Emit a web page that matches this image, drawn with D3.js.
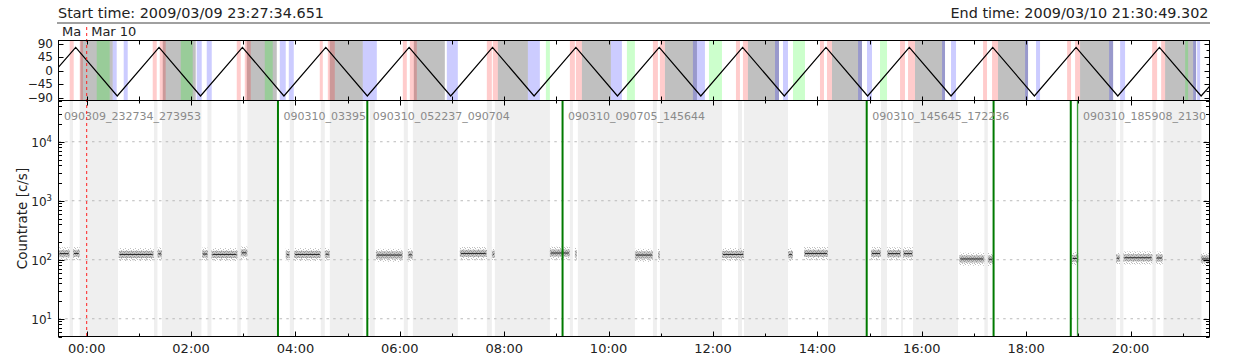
<!DOCTYPE html>
<html><head><meta charset="utf-8">
<script src="https://cdn.jsdelivr.net/npm/d3@7"></script>
<style>body{margin:0;background:#fff}svg{display:block}text{font-family:"DejaVu Sans",sans-serif}</style>
</head><body><svg id="c" width="1240" height="360"></svg>
<script>
// ---------- data ----------
const startTime = "2009/03/09 23:27:34.651";
const endTime = "2009/03/10 21:30:49.302";
const dayStart = "2009/03/10 00:00:00.000";
const dayLabels = ["Mar 09", "Mar 10"];
const yTopTicks = [90, 45, 0, -45, -90];
const yBotTicks = [10, 100, 1000, 10000];
const yLabel = "Countrate [c/s]";

// orbit trace: turning points (hours from 2009/03/10 00:00) and values
const orbitHours = [-0.540, -0.211, 0.585, 1.386, 2.181, 2.984, 3.779, 4.581, 5.377, 6.178, 6.975, 7.776, 8.572, 9.373, 10.170, 10.970, 11.767, 12.568, 13.366, 14.165, 14.963, 15.762, 16.561, 17.360, 18.158, 18.957, 19.757, 20.554, 21.353, 21.514];
const orbitValues = [11, 77, -85, 77, -85, 77, -85, 77, -85, 77, -85, 77, -85, 77, -85, 77, -85, 77, -85, 77, -85, 77, -85, 77, -85, 77, -85, 77, -85, -53];

// top panel bands [start, end] in hours
const grayBands = [[-0.121,0.498],[1.457,2.089],[3.067,3.642],[4.658,5.290],[6.268,6.862],[7.878,8.453],[9.488,10.044],[11.079,11.693],[12.670,13.265],[14.280,14.855],[15.871,16.446],[17.462,18.037],[19.034,19.667],[20.663,21.257]];
const redBands = [[-0.326,-0.249],[-0.134,-0.071],[1.265,1.342],[1.399,1.514],[2.875,2.952],[3.029,3.144],[4.466,4.524],[4.620,4.754],[6.057,6.134],[6.191,6.326],[7.667,7.763],[7.782,7.878],[9.258,9.354],[9.373,9.488],[10.849,10.945],[10.983,11.079],[12.440,12.517],[12.574,12.670],[14.050,14.127],[14.184,14.280],[15.584,15.679],[15.737,15.871],[17.175,17.251],[17.347,17.462],[18.785,18.861],[18.938,19.034],[20.414,20.510],[20.587,20.663]];
const blueBands = [[0.498,0.575],[0.709,0.786],[2.108,2.204],[2.300,2.396],[3.699,3.814],[3.872,3.968],[5.290,5.559],[6.900,7.111],[8.453,8.683],[10.044,10.255],[11.616,11.846],[13.188,13.265],[13.341,13.437],[14.779,14.855],[14.951,15.047],[16.389,16.446],[16.561,16.657],[17.980,18.037],[18.190,18.267],[19.590,19.667],[19.801,19.896],[21.200,21.257],[21.276,21.334]];
const greenBands = [[0.192,0.441],[1.802,2.032],[3.412,3.565],[8.798,8.875],[10.351,10.504],[11.923,12.172],[13.533,13.763],[15.200,15.335],[21.047,21.104]];

// bottom panel excluded intervals (hours)
const shadeBands = [[-0.326,-0.262],[-0.134,0.600],[1.290,1.355],[1.443,2.198],[2.313,2.390],[2.885,2.952],[3.080,3.642],[3.891,3.973],[4.485,4.562],[4.658,5.290],[5.425,5.520],[6.076,6.153],[6.249,7.111],[7.667,7.763],[7.821,8.875],[9.258,9.316],[9.411,10.504],[10.849,10.926],[10.983,12.172],[12.479,12.555],[12.594,13.437],[14.204,14.951],[15.220,15.335],[15.603,15.641],[15.833,16.695],[17.200,17.265],[19.005,19.724],[19.801,19.864],[20.420,20.485],[20.630,21.359]];

// count-rate clusters
const clusterStart = [-0.540,-0.263,0.613,1.355,2.210,2.390,2.952,3.814,3.974,4.562,5.540,6.153,7.150,7.763,8.875,9.354,10.504,10.945,12.172,13.437,13.744,15.027,15.335,15.641,16.720,17.265,18.875,19.724,19.864,20.485,21.348];
const clusterEnd   = [-0.326,-0.134,1.284,1.443,2.325,2.889,3.080,3.891,4.485,4.658,6.057,6.249,7.667,7.821,9.258,9.392,10.849,10.983,12.594,13.533,14.204,15.220,15.603,15.833,17.200,17.372,19.002,19.801,20.420,20.619,21.514];
const clusterMean  = [127,128,123,126,125,123,131,122,123,124,120,121,128,124,130,125,120,120,123,122,128,128,127,127,103,102,105,106,108,107,103];
const scatterCore = [0.87, 1.15];
const scatterWide = [0.77, 1.28];

// interval boundaries (green) and segment labels
const boundaryTimes = ["03:39:53","05:22:36","09:07:04","14:56:44","17:22:36","18:51:20","18:59:08"];
const segmentLabels = ["090309_232734_273953","090310_033954_052236","090310_052237_090704","090310_090705_145644","090310_145645_172236","090310_185908_213049"];

// ---------- drawing ----------
const svg = d3.select("#c");
const parseT = d3.utcParse("%Y/%m/%d %H:%M:%S.%L");
const t0 = parseT(startTime), t1 = parseT(endTime), tDay = parseT(dayStart);
const H = h => new Date(tDay.getTime() + h * 3600000);
const L = 58.5, R = 1209.5, tY0 = 40.5, tY1 = 100.5, bY0 = 100.5, bY1 = 336.5;
const x = d3.scaleUtc().domain([t0, t1]).range([L, R]);
const yT = d3.scaleLinear().domain([-100, 100]).range([tY1, tY0]);
const yB = d3.scaleLog().domain([5, 50000]).range([bY1, bY0]);

const defs = svg.append("defs");
defs.append("clipPath").attr("id","ct").append("rect").attr("x",L).attr("y",tY0).attr("width",R-L).attr("height",tY1-tY0);
defs.append("clipPath").attr("id","cb").append("rect").attr("x",L).attr("y",bY0).attr("width",R-L).attr("height",bY1-bY0);
const p1 = defs.append("pattern").attr("id","core").attr("width",4).attr("height",3).attr("patternUnits","userSpaceOnUse");
p1.append("rect").attr("width",4).attr("height",3).attr("fill","#c6c6c6");
[[0,0],[2,1],[1,2],[3,2]].forEach(([a,b]) => p1.append("rect").attr("x",a).attr("y",b).attr("width",1).attr("height",1).attr("fill","#9a9a9a"));
const p2 = defs.append("pattern").attr("id","wide").attr("width",5).attr("height",4).attr("patternUnits","userSpaceOnUse");
[[0,0],[3,1],[1,2],[4,3],[2,3]].forEach(([a,b]) => p2.append("rect").attr("x",a).attr("y",b).attr("width",1).attr("height",1).attr("fill","#bdbdbd"));

// header
svg.append("text").attr("x",58).attr("y",18).attr("font-size",14).attr("fill","#222")
  .attr("textLength",266).attr("lengthAdjust","spacingAndGlyphs").text("Start time: " + startTime);
svg.append("text").attr("x",1208.5).attr("y",18).attr("font-size",14).attr("fill","#222").attr("text-anchor","end")
  .attr("textLength",258).attr("lengthAdjust","spacingAndGlyphs").text("End time: " + endTime);
svg.append("line").attr("x1",57).attr("x2",1210).attr("y1",23).attr("y2",23).attr("stroke","#808080").attr("stroke-width",1.6);

// day labels (first one cut at the day boundary, as in the plot)
svg.append("text").attr("x",62).attr("y",35.5).attr("font-size",13).attr("fill","#222").text(dayLabels[0].slice(0,2));
svg.append("text").attr("x",x(tDay)+4.5).attr("y",35.5).attr("font-size",13).attr("fill","#222").text(dayLabels[1]);

// ---- top panel ----
const gt = svg.append("g").attr("clip-path","url(#ct)");
const band = (g, arr, fill, y0, y1) => g.selectAll(null).data(arr).join("rect")
  .attr("x", d => x(H(d[0]))).attr("width", d => Math.max(0.5, x(H(d[1])) - x(H(d[0]))))
  .attr("y", y0).attr("height", y1 - y0).attr("fill", fill);
band(gt, grayBands, "#c0c0c0", tY0, tY1);
band(gt, redBands, "rgba(255,0,0,0.2)", tY0, tY1);
band(gt, blueBands, "rgba(0,0,255,0.2)", tY0, tY1);
band(gt, greenBands, "rgba(0,255,0,0.2)", tY0, tY1);
gt.append("path").datum(orbitHours.map((h,i) => [h, orbitValues[i]]))
  .attr("d", d3.line().x(d => x(H(d[0]))).y(d => yT(d[1])))
  .attr("fill","none").attr("stroke","#000").attr("stroke-width",1.2);

// ---- bottom panel ----
const gb = svg.append("g").attr("clip-path","url(#cb)");
band(gb, shadeBands, "#efefef", bY0, bY1);
gb.selectAll(null).data(yBotTicks).join("line")
  .attr("x1",L).attr("x2",R).attr("y1",d => yB(d)).attr("y2",d => yB(d))
  .attr("stroke","#bababa").attr("stroke-dasharray","2.5,4.2");
const cl = clusterStart.map((s,i) => ({s, e: clusterEnd[i], m: clusterMean[i]}));
gb.selectAll(null).data(cl).join("rect")
  .attr("x", d => x(H(d.s))).attr("width", d => x(H(d.e)) - x(H(d.s)))
  .attr("y", d => yB(d.m * scatterWide[1])).attr("height", d => yB(d.m * scatterWide[0]) - yB(d.m * scatterWide[1]))
  .attr("fill","url(#wide)");
gb.selectAll(null).data(cl).join("rect")
  .attr("x", d => x(H(d.s))).attr("width", d => x(H(d.e)) - x(H(d.s)))
  .attr("y", d => yB(d.m * scatterCore[1])).attr("height", d => yB(d.m * scatterCore[0]) - yB(d.m * scatterCore[1]))
  .attr("fill","url(#core)");
gb.selectAll(null).data(cl).join("line")
  .attr("x1", d => x(H(d.s)) + 1).attr("x2", d => x(H(d.e)) - 1)
  .attr("y1", d => yB(d.m)).attr("y2", d => yB(d.m))
  .attr("stroke","#222").attr("stroke-width",1);

// green boundaries
const bt = boundaryTimes.map(s => parseT("2009/03/10 " + s + ".000"));
gb.selectAll(null).data(bt).join("line")
  .attr("x1", d => x(d)).attr("x2", d => x(d)).attr("y1", bY0).attr("y2", bY1)
  .attr("stroke", (d,i) => i === bt.length - 1 ? "#3c9c3c" : "#007a00")
  .attr("stroke-width", (d,i) => i === bt.length - 1 ? 1.4 : 2);

// segment labels, truncated to the room before the next segment
const segStart = segmentLabels.map(s => d3.utcParse("%y%m%d%H%M%S")(s.slice(0,6) + s.slice(7,13)));
segmentLabels.forEach((s,i) => {
  const lx = x(segStart[i]) + 5.5;
  const rx = i < segmentLabels.length - 1 ? x(segStart[i+1]) - 1 : R + 1;
  const t = svg.append("text").attr("x",lx).attr("y",119.5).attr("font-size",11).attr("fill","#8a8a8a").text(s);
  let str = s;
  while (str.length > 1 && lx + t.node().getComputedTextLength() > rx) { str = str.slice(0, -1); t.text(str); }
});

// red dashed day boundary
svg.append("line").attr("x1",x(tDay)).attr("x2",x(tDay)).attr("y1",27).attr("y2",bY1)
  .attr("stroke","#ff2020").attr("stroke-width",1).attr("stroke-dasharray","3,3");

// borders
svg.append("rect").attr("x",L).attr("y",tY0).attr("width",R-L).attr("height",tY1-tY0).attr("fill","none").attr("stroke","#000");
svg.append("rect").attr("x",L).attr("y",bY0).attr("width",R-L).attr("height",bY1-bY0).attr("fill","none").attr("stroke","#000");

// x ticks
const hours = d3.utcHour.every(1).range(t0, t1);
const tk = svg.append("g").attr("stroke","#000").attr("stroke-width",1);
hours.forEach(d => {
  const xx = Math.round(x(d)) + 0.5, major = d.getUTCHours() % 2 === 0;
  tk.append("line").attr("x1",xx).attr("x2",xx).attr("y1",tY0).attr("y2",tY0+4);
  tk.append("line").attr("x1",xx).attr("x2",xx).attr("y1",tY1).attr("y2",tY1-4);
  tk.append("line").attr("x1",xx).attr("x2",xx).attr("y1",bY0).attr("y2",bY0+(major?5:3));
  tk.append("line").attr("x1",xx).attr("x2",xx).attr("y1",bY1).attr("y2",bY1-(major?5:3));
});
svg.selectAll(null).data(hours.filter(d => d.getUTCHours() % 2 === 0)).join("text")
  .attr("x", d => x(d)).attr("y",353).attr("font-size",13).attr("fill","#222").attr("text-anchor","middle")
  .text(d3.utcFormat("%H:%M"));

// top y axis
yTopTicks.forEach(v => {
  const yy = Math.round(yT(v)) + 0.5;
  tk.append("line").attr("x1",L).attr("x2",L+5).attr("y1",yy).attr("y2",yy);
});
d3.range(-90, 91, 22.5).forEach(v => {
  const yy = Math.round(yT(v)) + 0.5;
  tk.append("line").attr("x1",R).attr("x2",R-(v % 45 === 0 ? 5 : 3)).attr("y1",yy).attr("y2",yy);
});
svg.selectAll(null).data(yTopTicks).join("text")
  .attr("x",53).attr("y", d => yT(d) + 4.3).attr("font-size",12).attr("fill","#222").attr("text-anchor","end")
  .text(d => d < 0 ? "\u2212" + Math.abs(d) : d);

// bottom y axis (log)
const minor = [];
[1,10,100,1000,10000].forEach(dec => { for (let k = 1; k <= 9; k++) { const v = dec*k; if (v >= 5 && v <= 50000) minor.push(v); } });
minor.forEach(v => {
  const yy = Math.round(yB(v)) + 0.5, maj = yBotTicks.includes(v);
  tk.append("line").attr("x1",L).attr("x2",L+(maj?6:3.5)).attr("y1",yy).attr("y2",yy);
  tk.append("line").attr("x1",R).attr("x2",R-(maj?6:3.5)).attr("y1",yy).attr("y2",yy);
});
yBotTicks.forEach(v => {
  const t = svg.append("text").attr("x",52).attr("y",yB(v)+5).attr("font-size",12).attr("fill","#222").attr("text-anchor","end");
  t.append("tspan").text("10");
  t.append("tspan").attr("dy",-5).attr("font-size",8.5).text(Math.round(Math.log10(v)));
});
svg.append("text").attr("transform","translate(27,218.5) rotate(-90)").attr("text-anchor","middle")
  .attr("font-size",13.5).attr("fill","#222").text(yLabel);
</script></body></html>
